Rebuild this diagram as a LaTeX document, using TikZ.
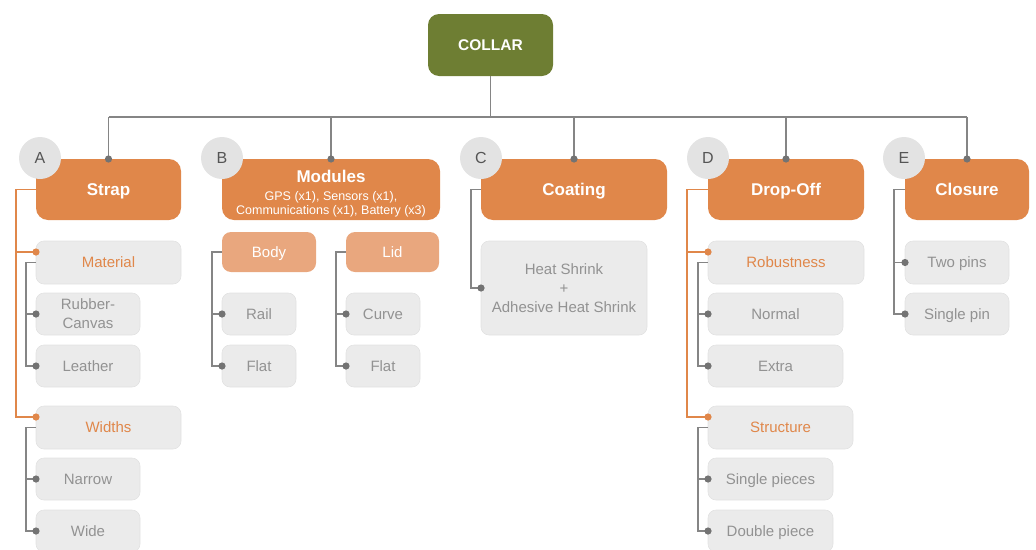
\documentclass[tikz,border=0pt]{standalone}
\usepackage{fontspec}
\setmainfont{Liberation Sans}
\usetikzlibrary{calc}
\definecolor{org}{HTML}{E0874A}
\definecolor{lorg}{HTML}{E9A77E}
\definecolor{olive}{HTML}{6E7E33}
\definecolor{leaffill}{HTML}{EBEBEB}
\definecolor{leafdraw}{HTML}{E2E2E2}
\definecolor{leaftext}{HTML}{929292}
\definecolor{circfill}{HTML}{E3E3E3}
\definecolor{lettertext}{HTML}{555555}
\definecolor{gline}{HTML}{858585}
\definecolor{gdot}{HTML}{737373}
\begin{document}
\begin{tikzpicture}[x=1pt,y=-1pt,
  every node/.style={inner sep=0pt,outer sep=0pt},
  rootbox/.style={anchor=north west,fill=olive,rounded corners=11pt,text=white,
    font=\fontsize{15.5}{18}\selectfont\bfseries,text height=11pt,text depth=0pt},
  mainbase/.style={anchor=north west,fill=org,rounded corners=12pt,text=white,
    font=\fontsize{17}{20}\selectfont\bfseries},
  mainbox/.style={mainbase,text height=12.2pt,text depth=0pt},
  maintext/.style={text=white,font=\fontsize{17}{20}\selectfont\bfseries,align=center},
  subbox/.style={anchor=north west,fill=lorg,rounded corners=9pt,text=white,
    font=\fontsize{15}{18}\selectfont,text height=10.7pt,text depth=0pt},
  catbox/.style={anchor=north west,fill=leaffill,draw=leafdraw,line width=0.6pt,rounded corners=8pt,text=org,
    font=\fontsize{15}{18}\selectfont,text height=10.7pt,text depth=0pt},
  leafbase/.style={anchor=north west,fill=leaffill,draw=leafdraw,line width=0.6pt,rounded corners=8pt,text=leaftext,
    font=\fontsize{15}{19}\selectfont},
  leafbox/.style={leafbase,text height=10.7pt,text depth=0pt},
  leafml/.style={leafbase,align=center},
  letterc/.style={circle,fill=circfill,minimum size=42pt,text=lettertext,
    font=\fontsize{16}{18}\selectfont},
  glink/.style={draw=gline,line width=1.2pt},
  olink/.style={draw=org,line width=1.2pt},
  gdotst/.style={fill=gdot},
  odotst/.style={fill=org}
]
\useasboundingbox (0,0) rectangle (1036,549);

% root
\node[rootbox,minimum width=125pt,minimum height=62pt] (collar) at (428,14) {COLLAR};

% main boxes
\node[mainbox,minimum width=145pt,minimum height=61pt] (strap) at (36,159) {Strap};
\node[mainbox,minimum width=218pt,minimum height=61pt] (modules) at (222,159) {};
\node[maintext] (modtext) at ([yshift=-4.5pt]modules.center)
  {Modules\\[-2pt]\fontsize{12.5}{14}\selectfont\mdseries GPS (x1), Sensors (x1),\\[-6pt]\fontsize{12.5}{14}\selectfont\mdseries Communications (x1), Battery (x3)};
\node[mainbox,minimum width=186pt,minimum height=61pt] (coating) at (481,159) {Coating};
\node[mainbox,minimum width=156pt,minimum height=61pt] (dropoff) at (708,159) {Drop-Off};
\node[mainbox,minimum width=124pt,minimum height=61pt] (closure) at (905,159) {Closure};

% strap children
\node[catbox,minimum width=145pt,minimum height=43pt] (material) at (36,241) {Material};
\node[leafml,minimum width=104pt,minimum height=42pt] (rubber) at (36,293) {Rubber-\\Canvas};
\node[leafbox,minimum width=104pt,minimum height=42pt] (leather) at (36,345) {Leather};
\node[catbox,minimum width=145pt,minimum height=43pt] (widths) at (36,406) {Widths};
\node[leafbox,minimum width=104pt,minimum height=42pt] (narrow) at (36,458) {Narrow};
\node[leafbox,minimum width=104pt,minimum height=42pt] (wide) at (36,510) {Wide};

% modules children
\node[subbox,minimum width=94pt,minimum height=40pt] (body) at (222,232) {Body};
\node[subbox,minimum width=93pt,minimum height=40pt] (lid) at (346,232) {Lid};
\node[leafbox,minimum width=74pt,minimum height=42pt] (rail) at (222,293) {Rail};
\node[leafbox,minimum width=74pt,minimum height=42pt] (flata) at (222,345) {Flat};
\node[leafbox,minimum width=74pt,minimum height=42pt] (curve) at (346,293) {Curve};
\node[leafbox,minimum width=74pt,minimum height=42pt] (flatb) at (346,345) {Flat};

% coating child
\node[leafml,minimum width=166pt,minimum height=94pt] (heat) at (481,241)
  {Heat Shrink\\+\\Adhesive Heat Shrink};

% drop-off children
\node[catbox,minimum width=156pt,minimum height=43pt] (robust) at (708,241) {Robustness};
\node[leafbox,minimum width=135pt,minimum height=42pt] (normal) at (708,293) {Normal};
\node[leafbox,minimum width=135pt,minimum height=42pt] (extra) at (708,345) {Extra};
\node[catbox,minimum width=145pt,minimum height=43pt] (structure) at (708,406) {Structure};
\node[leafbox,minimum width=125pt,minimum height=42pt] (singlep) at (708,458) {Single pieces};
\node[leafbox,minimum width=125pt,minimum height=42pt] (doublep) at (708,510) {Double piece};

% closure children
\node[leafbox,minimum width=104pt,minimum height=43pt] (twopins) at (905,241) {Two pins};
\node[leafbox,minimum width=104pt,minimum height=42pt] (singlepin) at (905,293) {Single pin};

% bus
\draw[glink] (collar.south) -- ++(0,41) coordinate (bj);
\draw[glink] (strap.north |- bj) -- (closure.north |- bj);
\foreach \m in {strap,modules,coating,dropoff,closure}{
  \draw[glink] (\m.north |- bj) -- (\m.north);
  \fill[gdotst] (\m.north) circle (3.6pt);
}

% strap connectors
\draw[olink] (strap.west) -- ++(-20,0) coordinate (sx) |- ([yshift=10.5pt]material.west);
\draw[olink] (sx) |- ([yshift=10.5pt]widths.west);
\fill[odotst] ([yshift=10.5pt]material.west) circle (3.6pt);
\fill[odotst] ([yshift=10.5pt]widths.west) circle (3.6pt);
\draw[glink] (material.west) -- ++(-10,0) coordinate (mx) |- (rubber.west);
\draw[glink] (mx) |- (leather.west);
\draw[glink] (widths.west) -- ++(-10,0) coordinate (wx) |- (narrow.west);
\draw[glink] (wx) |- (wide.west);
\foreach \n in {rubber,leather,narrow,wide}{\fill[gdotst] (\n.west) circle (3.6pt);}

% modules connectors
\draw[glink] (body.west) -- ++(-10,0) coordinate (bx) |- (rail.west);
\draw[glink] (bx) |- (flata.west);
\draw[glink] (lid.west) -- ++(-10,0) coordinate (lx) |- (curve.west);
\draw[glink] (lx) |- (flatb.west);
\foreach \n in {rail,flata,curve,flatb}{\fill[gdotst] (\n.west) circle (3.6pt);}

% coating connector
\draw[glink] (coating.west) -- ++(-10,0) |- (heat.west);
\fill[gdotst] (heat.west) circle (3.6pt);

% drop-off connectors
\draw[olink] (dropoff.west) -- ++(-21,0) coordinate (dx) |- ([yshift=10.5pt]robust.west);
\draw[olink] (dx) |- ([yshift=10.5pt]structure.west);
\fill[odotst] ([yshift=10.5pt]robust.west) circle (3.6pt);
\fill[odotst] ([yshift=10.5pt]structure.west) circle (3.6pt);
\draw[glink] (robust.west) -- ++(-10,0) coordinate (rx) |- (normal.west);
\draw[glink] (rx) |- (extra.west);
\draw[glink] (structure.west) -- ++(-10,0) coordinate (tx) |- (singlep.west);
\draw[glink] (tx) |- (doublep.west);
\foreach \n in {normal,extra,singlep,doublep}{\fill[gdotst] (\n.west) circle (3.6pt);}

% closure connectors
\draw[glink] (closure.west) -- ++(-11,0) coordinate (cx) |- (twopins.west);
\draw[glink] (cx) |- (singlepin.west);
\foreach \n in {twopins,singlepin}{\fill[gdotst] (\n.west) circle (3.6pt);}

% letter circles
\node[letterc] (la) at (40,158) {A};
\node[letterc] (lb) at (222,158) {B};
\node[letterc] (lc) at (481,158) {C};
\node[letterc] (ld) at (708,158) {D};
\node[letterc] (le) at (904,158) {E};
\end{tikzpicture}
\end{document}
